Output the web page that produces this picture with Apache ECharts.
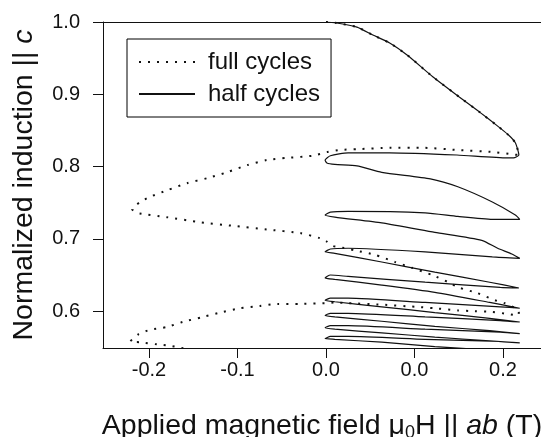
<!DOCTYPE html>
<html>
<head>
<meta charset="utf-8">
<script src="https://cdn.jsdelivr.net/npm/echarts@6/dist/echarts.min.js"></script>
<style>
  html, body { margin: 0; padding: 0; background: #fff; }
  #chart { width: 541px; height: 437px; }
</style>
</head>
<body>
<div id="chart"></div>
<script>
  // tick positions and their printed labels (as in the original figure)
  const xTickValues = [-0.2, -0.1, 0, 0.1, 0.2];
  const xTickLabels = ['-0.2', '-0.1', '0.0', '0.0', '0.2'];
  const yTickValues = [0.6, 0.7, 0.8, 0.9, 1.0];
  const yTickLabels = ['0.6', '0.7', '0.8', '0.9', '1.0'];

  // descent from saturation, shared by both measurements
  const startBranch = [[0.000,1.000],[0.010,0.999],[0.035,0.993],[0.053,0.982],[0.072,0.971],[0.092,0.954],[0.121,0.924],[0.151,0.896],[0.174,0.875],[0.193,0.857],[0.206,0.844],[0.214,0.833],[0.217,0.822],[0.218,0.816]];

  // full cycles (dotted)
  const fullUpper = [[0.210,0.817],[0.190,0.820],[0.148,0.823],[0.110,0.826],[0.072,0.826],[0.035,0.824],[0.016,0.823],[0.001,0.820],[-0.015,0.815],[-0.044,0.812],[-0.067,0.809],[-0.089,0.802],[-0.112,0.792],[-0.134,0.784],[-0.157,0.777],[-0.180,0.767],[-0.199,0.758],[-0.210,0.751],[-0.219,0.741]];
  const fullLower = [[-0.214,0.736],[-0.180,0.730],[-0.142,0.723],[-0.105,0.718],[-0.067,0.713],[-0.029,0.708],[-0.007,0.701],[0.000,0.697],[0.008,0.690],[0.014,0.689],[0.033,0.684],[0.055,0.678],[0.078,0.668],[0.097,0.660],[0.120,0.650],[0.140,0.639],[0.149,0.633],[0.171,0.625],[0.191,0.615],[0.202,0.611],[0.214,0.604],[0.218,0.599]];
  const fullReturn = [[0.217,0.594],[0.206,0.596],[0.188,0.599],[0.168,0.600],[0.149,0.601],[0.123,0.604],[0.101,0.606],[0.063,0.609],[0.025,0.611],[0.010,0.612],[0.000,0.611],[-0.029,0.610],[-0.055,0.610],[-0.075,0.607],[-0.097,0.604],[-0.116,0.599],[-0.139,0.592],[-0.162,0.585],[-0.180,0.578],[-0.199,0.574],[-0.212,0.568],[-0.221,0.558]];
  const fullTail = [[-0.210,0.557],[-0.191,0.554],[-0.176,0.552],[-0.167,0.550],[-0.150,0.546],[-0.130,0.543]];

  // half cycles (solid), sweeps back (R) and forth (D)
  const halfR1 = [[0.212,0.812],[0.205,0.812],[0.148,0.816],[0.072,0.819],[0.025,0.819],[0.005,0.815],[-0.001,0.809]];
  const halfD2 = [[0.001,0.805],[0.010,0.803],[0.035,0.801],[0.063,0.792],[0.118,0.783],[0.149,0.772],[0.188,0.751],[0.214,0.733],[0.219,0.727]];
  const halfR2 = [[0.188,0.727],[0.149,0.731],[0.112,0.736],[0.025,0.738],[0.005,0.737],[-0.001,0.733]];
  const halfD3 = [[0.010,0.730],[0.063,0.722],[0.123,0.709],[0.176,0.698],[0.194,0.687],[0.210,0.679],[0.219,0.673]];
  const halfR3 = [[0.188,0.675],[0.112,0.682],[0.025,0.687],[0.005,0.686],[-0.001,0.682]];
  const halfD4 = [[0.010,0.680],[0.063,0.668],[0.123,0.654],[0.185,0.640],[0.218,0.632]];
  const halfR4 = [[0.197,0.633],[0.112,0.640],[0.025,0.648],[0.005,0.650],[-0.001,0.646]];
  const halfD5 = [[0.010,0.644],[0.063,0.636],[0.123,0.626],[0.185,0.612],[0.219,0.604]];
  const halfR5 = [[0.197,0.606],[0.112,0.612],[0.025,0.618],[0.005,0.618],[-0.001,0.615]];
  const halfD6 = [[0.010,0.613],[0.063,0.606],[0.123,0.598],[0.185,0.590],[0.219,0.585]];
  const halfR6 = [[0.197,0.587],[0.112,0.592],[0.025,0.597],[0.005,0.597],[-0.001,0.594]];
  const halfD7 = [[0.010,0.592],[0.063,0.586],[0.123,0.579],[0.185,0.573],[0.219,0.569]];
  const halfR7 = [[0.197,0.571],[0.112,0.575],[0.025,0.580],[0.005,0.580],[-0.001,0.577]];
  const halfD8 = [[0.010,0.575],[0.063,0.570],[0.123,0.564],[0.185,0.559],[0.219,0.556]];
  const halfR8 = [[0.197,0.558],[0.112,0.561],[0.025,0.565],[0.005,0.565],[-0.001,0.562]];
  const halfD9 = [[0.010,0.561],[0.063,0.557],[0.123,0.551],[0.185,0.546],[0.219,0.543]];

  const fullPath = [].concat(startBranch, fullUpper, fullLower, fullReturn, fullTail);
  const halfPath = [].concat(startBranch, halfR1, halfD2, halfR2, halfD3, halfR3, halfD4, halfR4,
    halfD5, halfR5, halfD6, halfR6, halfD7, halfR7, halfD8, halfR8, halfD9);

  const font = 'Liberation Sans, Arial, Helvetica, sans-serif';
  const ink = '#111';

  const findLabel = (vals, labels, v) => {
    const i = vals.findIndex(t => Math.abs(t - v) < 1e-6);
    return i < 0 ? '' : labels[i];
  };

  const myChart = echarts.init(document.getElementById('chart'));
  const option = {
    animation: false,
    backgroundColor: '#fff',
    grid: { left: 103, right: 0, top: 22, bottom: 89, containLabel: false, outerBoundsMode: 'none' },
    legend: {
      orient: 'vertical',
      left: 127,
      top: 39,
      padding: [9, 11, 9, 11],
      itemGap: 4,
      itemWidth: 56,
      itemHeight: 14,
      borderColor: '#000',
      borderWidth: 1,
      selectedMode: false,
      itemStyle: { opacity: 0 },
      textStyle: { fontSize: 24, lineHeight: 28, color: ink, fontFamily: font, padding: [0, 0, 0, 8] },
      data: ['full cycles', 'half cycles']
    },
    xAxis: [
      {
        type: 'value',
        min: -0.252,
        max: 0.243,
        position: 'bottom',
        name: 'Applied magnetic field \u03bc{sub|0}H || {it|ab} (T)',
        nameLocation: 'middle',
        nameGap: 62,
        nameTextStyle: {
          fontSize: 28.5, color: ink, fontFamily: font, lineHeight: 32,
          rich: {
            sub: { fontSize: 18, lineHeight: 14, verticalAlign: 'bottom', color: ink, fontFamily: font },
            it: { fontSize: 28.5, fontStyle: 'italic', color: ink, fontFamily: font }
          }
        },
        axisLine: { show: true, onZero: false, lineStyle: { color: ink, width: 1 } },
        axisTick: { show: true, inside: false, length: 10, customValues: xTickValues, lineStyle: { color: ink } },
        axisLabel: {
          customValues: xTickValues,
          margin: 12,
          fontSize: 20, color: ink, fontFamily: font,
          formatter: v => findLabel(xTickValues, xTickLabels, v)
        },
        splitLine: { show: false }
      },
      {
        type: 'value',
        min: -0.252,
        max: 0.243,
        position: 'top',
        axisLine: { show: true, onZero: false, lineStyle: { color: ink, width: 1 } },
        axisTick: { show: false },
        axisLabel: { show: false },
        splitLine: { show: false }
      }
    ],
    yAxis: {
      type: 'value',
      min: 0.549,
      max: 1.0,
      name: 'Normalized induction || {it|c}',
      nameLocation: 'middle',
      nameGap: 64,
      nameTextStyle: {
        fontSize: 28.5, color: ink, fontFamily: font,
        rich: { it: { fontSize: 28.5, fontStyle: 'italic', color: ink, fontFamily: font } }
      },
      axisLine: { show: true, onZero: false, lineStyle: { color: ink, width: 1 } },
      axisTick: { show: true, inside: false, length: 10, customValues: yTickValues, lineStyle: { color: ink } },
      axisLabel: {
        customValues: yTickValues,
        margin: 23,
        fontSize: 20, color: ink, fontFamily: font,
        formatter: v => findLabel(yTickValues, yTickLabels, v)
      },
      splitLine: { show: false }
    },
    series: [
      {
        name: 'half cycles',
        type: 'line',
        data: halfPath,
        symbol: 'none',
        smooth: 0.2,
        itemStyle: { color: ink },
        lineStyle: { color: ink, width: 1.2 }
      },
      {
        name: 'full cycles',
        type: 'line',
        data: fullPath,
        symbol: 'none',
        smooth: 0.2,
        itemStyle: { color: ink },
        lineStyle: { color: ink, width: 2, type: [2, 7] }
      }
    ]
  };
  myChart.setOption(option);
</script>
</body>
</html>
